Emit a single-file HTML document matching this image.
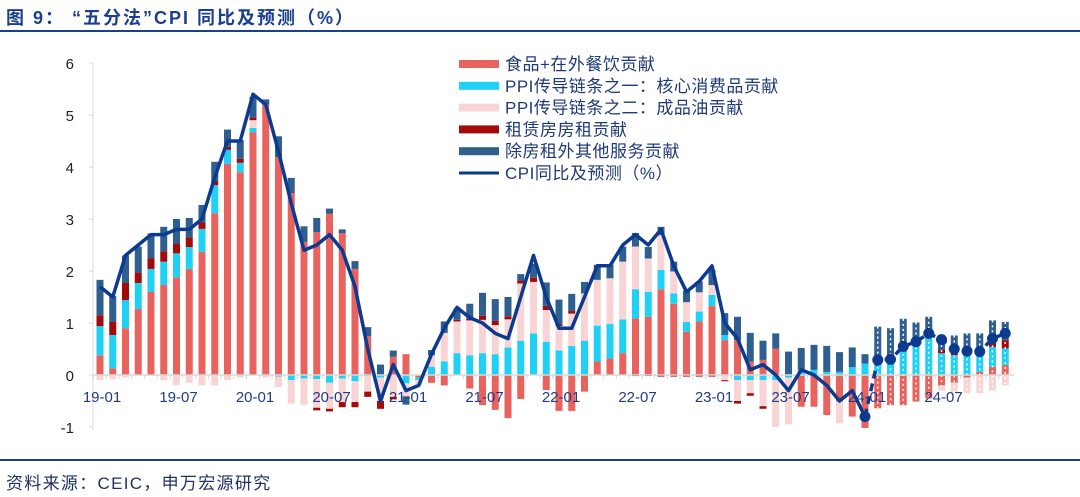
<!DOCTYPE html>
<html><head><meta charset="utf-8">
<style>
body{margin:0;background:#fff;width:1080px;height:497px;overflow:hidden;font-family:"Liberation Sans","Noto Sans CJK SC",sans-serif;}
.t{position:absolute;}
</style></head>
<body>
<div class="t" style="left:6px;top:4px;font-size:18px;letter-spacing:2px;font-weight:bold;color:#1b3f8f;white-space:nowrap;">图 9：  “五分法”CPI 同比及预测（%）</div>
<div class="t" style="left:0;top:30px;width:1080px;height:2px;background:#1b3f8f;"></div>
<div class="t" style="left:0;top:459px;width:1080px;height:2px;background:#1b3f8f;"></div>
<div class="t" style="left:6px;top:469px;font-size:17px;letter-spacing:1.3px;color:#1f2f5f;white-space:nowrap;">资料来源：CEIC，申万宏源研究</div>
<svg id="c" width="1080" height="497" style="position:absolute;left:0;top:0"></svg>
<script>
const cats=[];for(let y=19;y<=24;y++)for(let m=1;m<=12;m++)cats.push(y+'-'+String(m).padStart(2,'0'));
const food=[.38,.13,.9,1.27,1.6,1.73,1.88,2.04,2.37,3.11,4.06,3.9,4.67,5.2,4.19,3.5,2.56,2.75,3.1,2.73,2.04,.75,0,.35,.4,-.05,-.15,-.2,0,-.26,-.58,-.67,-.83,-.46,0,-.29,-.69,-.69,-.32,.26,.32,.42,1.09,1.12,1.65,1.37,.83,1.03,1.33,.67,.67,.26,.29,.51,0,-.61,-.61,-.77,-.51,-.8,-1.02,-.64,-.58,-.58,-.51,-.45,-.2,-.15,-.05,.06,.16,.19];
const core=[.56,.64,.54,.5,.44,.45,.46,.42,.44,.54,.27,.18,.08,0,-.03,-.1,-.07,-.08,-.15,-.07,-.12,-.02,-.05,0,-.16,-.05,.16,.26,.42,.38,.42,.4,.53,.66,.8,.64,.47,.56,.66,.69,.66,.65,.56,.48,.37,.2,.19,.19,.21,.1,-.1,-.1,-.1,-.1,-.05,.1,.1,.06,.06,.15,.22,.19,.29,.45,.64,.74,.42,.38,.42,.42,.38,.32];
const oil=[-.1,-.08,-.05,0,-.02,-.1,-.2,-.15,-.2,-.2,-.1,-.05,.15,-.05,-.2,-.45,-.5,-.55,-.5,-.45,-.4,-.3,-.45,-.42,-.25,-.1,.22,.55,.61,.67,.64,.56,.54,1.1,.99,.61,.47,.62,.91,.88,.88,1.11,.82,.64,.67,.42,.38,.37,.19,-.1,-.4,-.25,-.5,-.9,-.9,0,0,0,-.42,0,0,0,0,0,0,0,-.1,-.2,-.3,-.35,-.3,-.2];
const rent=[.21,.25,.33,.2,.2,.2,.19,.19,.13,.08,.06,.08,.05,0,0,0,0,-.05,-.05,-.1,-.1,-.1,-.15,-.05,0,0,0,0,.03,.03,.08,.08,.06,.06,.08,.08,.03,.05,0,0,0,0,-.02,-.02,-.03,-.03,-.03,-.03,-.03,-.02,-.05,-.05,-.05,0,0,0,0,0,0,0,0,0,.02,.1,0,0,.06,.06,.03,0,.13,.16];
const serv=[.68,.5,.53,.5,.48,.47,.47,.37,.33,.37,.33,.36,.4,.1,.4,.29,.3,.27,.1,.07,.15,.17,.2,.12,-.16,0,.1,.22,.22,.29,.44,.42,.37,.12,.27,.45,.48,.33,.22,.29,.26,.29,.26,.22,.16,.19,.22,.21,.29,.42,.45,.55,.37,.29,.45,.42,.48,.5,.38,.38,.18,.74,.59,.53,.37,.38,.29,.32,.35,.32,.38,.35];
const cpi=[1.7,1.5,2.3,2.5,2.7,2.7,2.8,2.8,3.0,3.8,4.5,4.5,5.4,5.2,4.3,3.3,2.4,2.5,2.7,2.4,1.7,0.5,-0.5,0.2,-0.3,-0.2,0.4,0.9,1.3,1.1,1.0,0.8,0.7,1.5,2.3,1.5,0.9,0.9,1.5,2.1,2.1,2.5,2.7,2.5,2.8,2.1,1.6,1.8,2.1,1.0,0.7,0.1,0.2,0.0,-0.3,0.1,0.0,-0.2,-0.5,-0.3,-0.8,0.29,0.3,0.55,0.64,0.8,0.68,0.5,0.46,0.45,0.7,0.8];
const yTicks=[6,5,4,3,2,1,0,-1];
const forecastStart=61;
const NS='http://www.w3.org/2000/svg';
const svg=document.getElementById('c');
const X=i=>100+i*12.75, Y=v=>375-v*52;
function mk(t,a,p){const e=document.createElementNS(NS,t);for(const k in a)e.setAttribute(k,a[k]);(p||svg).appendChild(e);return e;}
let ax=mk('line',{x1:93,y1:63,x2:93,y2:430,stroke:'#d9d9d9','stroke-width':1});


yTicks.forEach(v=>{mk('line',{x1:89,x2:93,y1:Y(v),y2:Y(v),stroke:'#d9d9d9'});
 const t=mk('text',{x:74,y:Y(v)+6,'text-anchor':'end','font-size':15,fill:'#222'});t.textContent=v;
 
 });
const series=[[food,'#e8625e'],[core,'#1fd2f5'],[oil,'#f8d4d4'],[rent,'#a50a0a'],[serv,'#2e5f8f']];
const bw=7;
cats.forEach((c,i)=>{let pos=0,neg=0;
 series.forEach(([arr,col])=>{const v=arr[i];if(!v)return;let y0,y1;
  if(v>0){y0=pos;y1=pos+v;pos=y1;}else{y0=neg;y1=neg+v;neg=y1;}
  const r=mk('rect',{x:X(i)-bw/2,y:Math.min(Y(y0),Y(y1)),width:bw,height:Math.abs(Y(y1)-Y(y0)),fill:col});
  
  });
 if(i>=forecastStart){const d=mk('line',{x1:X(i),x2:X(i),y1:Y(pos),y2:Y(neg),stroke:'#fff','stroke-width':1.5,'stroke-dasharray':'2 3'});
  
  }
});
let zl=mk('line',{x1:93,x2:1014,y1:375,y2:375,stroke:'#d9d9d9','stroke-width':1.5});


cats.forEach((c,i)=>{mk('line',{x1:X(i)-6.4,x2:X(i)-6.4,y1:375,y2:379,stroke:'#d9d9d9'});
 if(i%6==0){const t=mk('text',{x:X(i)+2,y:402,'text-anchor':'middle','font-size':15,fill:'#1f3a8a'});t.textContent=c;
 
 }});
let d='';for(let i=0;i<forecastStart;i++)d+=(i?'L':'M')+X(i)+','+Y(cpi[i]);
const ln=mk('path',{d:d,fill:'none',stroke:'#0b3a8f','stroke-width':3.5,'stroke-linejoin':'round'});


let d2='';for(let i=forecastStart-1;i<cats.length;i++)d2+=(i>=forecastStart?'L':'M')+X(i)+','+Y(cpi[i]);
const fl=mk('path',{d:d2,fill:'none',stroke:'#0b3a8f','stroke-width':3.5,'stroke-dasharray':'8 5'});


for(let i=forecastStart-1;i<cats.length;i++){const c=mk('circle',{cx:X(i),cy:Y(cpi[i]),r:5.5,fill:'#0b3a8f'});
 
 }
const leg=[['食品+在外餐饮贡献','#e8625e'],['PPI传导链条之一：核心消费品贡献','#1fd2f5'],['PPI传导链条之二：成品油贡献','#f8d4d4'],['租赁房房租贡献','#a50a0a'],['除房租外其他服务贡献','#2e5f8f'],['CPI同比及预测（%）','#0b3a8f']];
leg.forEach(([n,col],k)=>{const y=64+k*21.8;
 const s=mk('rect',{x:459,y:k==5?y-1.5:y-4,width:40,height:k==5?3:8,fill:col});
 
 
 const t=mk('text',{x:505,y:y+6,'font-size':17,'letter-spacing':0.5,fill:'#1f3a7a'});t.textContent=n;
 
 });
</script>
</body></html>
